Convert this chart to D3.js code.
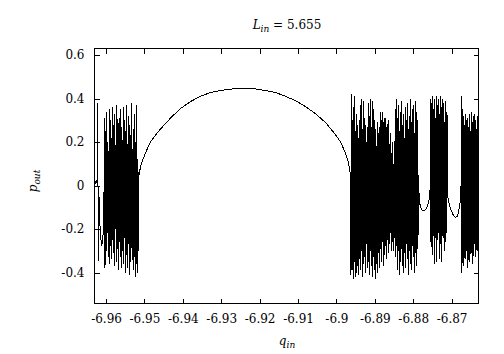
<!DOCTYPE html>
<html><head><meta charset="utf-8">
<script src="https://cdn.jsdelivr.net/npm/d3@7"></script>
<style>body{margin:0;background:#fff}svg{display:block}text{font-family:"DejaVu Serif",serif;fill:#000}</style>
</head><body><svg id="c" width="504" height="354"></svg>
<script>
// ---- data ----
const xTicks = [-6.96,-6.95,-6.94,-6.93,-6.92,-6.91,-6.9,-6.89,-6.88,-6.87];
const xTickLabels = ["-6.96","-6.95","-6.94","-6.93","-6.92","-6.91","-6.9","-6.89","-6.88","-6.87"];
const yTicks = [0.6,0.4,0.2,0,-0.2,-0.4];
const yTickLabels = ["0.6","0.4","0.2","0","-0.2","-0.4"];

// left edge piece (explicit q,p)
const edgeQ = [-6.96300,-6.96261,-6.96235,-6.96217,-6.96201,-6.96183,-6.96162,-6.96139,-6.96113,-6.96086,-6.96066,-6.96050];
const edgeP = [0.00,0.02,0.01,0.38,-0.345,-0.05,-0.17,-0.24,-0.27,-0.26,-0.18,0.00];

// left chaotic band (q range, p samples in order)
const leftQ = [-6.96040,-6.95147];
const leftP = [0.31,-0.38,0.25,-0.30,0.34,-0.22,0.20,-0.33,0.16,-0.36,0.35,-0.28,0.30,-0.34,0.22,-0.25,0.36,-0.31,0.28,-0.37,0.33,-0.20,0.18,-0.35,0.37,-0.29,0.24,-0.39,0.31,-0.26,0.35,-0.33,0.27,-0.38,0.21,-0.30,0.36,-0.36,0.30,-0.24,0.25,-0.40,0.37,-0.32,0.19,-0.38,0.32,-0.27,0.28,-0.41,0.23,-0.35,0.38,-0.30,0.17,-0.39,0.26,-0.33,0.33,-0.42,0.20,-0.36,0.37,-0.40,0.12,-0.30,0.06];

// smooth arc
const arcQ = [-6.95141,-6.95102,-6.95050,-6.94972,-6.94842,-6.94711,-6.94581,-6.94321,-6.94060,-6.93800,-6.93540,-6.93279,-6.93019,-6.92706,-6.92420,-6.92107,-6.91847,-6.91586,-6.91326,-6.91066,-6.90805,-6.90545,-6.90284,-6.90024,-6.89894,-6.89764,-6.89685,-6.89633];
const arcP = [0.050,0.085,0.115,0.150,0.200,0.232,0.260,0.310,0.354,0.386,0.410,0.428,0.437,0.444,0.446,0.444,0.437,0.428,0.410,0.390,0.363,0.330,0.290,0.234,0.200,0.150,0.105,0.046];

// right chaotic band 1
const right1Q = [-6.89620,-6.87863];
const right1P = [-0.41,0.42,-0.38,0.30,-0.43,0.36,-0.35,0.41,-0.42,0.25,-0.40,0.33,
 -0.37,0.28,-0.41,0.22,-0.34,0.30,
 -0.39,0.37,-0.30,0.40,-0.42,0.26,-0.36,0.39,-0.33,0.31,
 -0.40,0.28,-0.27,0.20,-0.38,0.27,
 -0.35,0.38,-0.41,0.32,-0.30,0.40,-0.37,0.27,-0.42,0.39,-0.33,0.35,-0.39,0.30,
 -0.43,0.26,-0.36,0.18,-0.40,0.29,-0.31,0.24,-0.38,0.27,
 -0.29,0.34,-0.35,0.30,-0.26,0.34,-0.37,0.22,-0.32,0.31,
 -0.28,0.27,-0.34,0.21,-0.25,0.30,-0.31,0.18,-0.27,0.24,-0.22,0.15,-0.30,0.20,
 -0.26,0.10,-0.30,0.14,-0.24,0.35,
 -0.33,0.40,-0.28,0.31,-0.39,0.37,-0.30,0.25,-0.41,0.34,-0.35,0.39,-0.29,0.28,-0.37,0.33,-0.40,0.22,-0.31,0.36,-0.38,0.30,-0.27,0.38,-0.34,0.26,-0.41,0.32,-0.30,0.40,-0.36,0.29,-0.39,0.35,-0.28,0.37,-0.33,0.24,-0.40,0.39,-0.31,0.34,-0.37,0.30,-0.25,0.05];

// first dip
const dip1Q = [-6.87850,-6.87837,-6.87811,-6.87772,-6.87720,-6.87668,-6.87628,-6.87589,-6.87563];
const dip1P = [-0.03,-0.075,-0.098,-0.112,-0.116,-0.110,-0.095,-0.065,-0.03];

// right chaotic band 2
const right2Q = [-6.87550,-6.87107];
const right2P = [0.40,-0.26,0.38,-0.32,0.41,-0.22,0.35,-0.36,0.40,-0.24,0.31,-0.35,0.41,-0.25,0.37,-0.22,0.40,-0.34,0.33,-0.27,0.41,-0.35,0.36,-0.23,0.40,-0.24,0.38,-0.30,0.29,-0.26,0.39,-0.22,0.34,-0.05];

// second dip
const dip2Q = [-6.87107,-6.87055,-6.87003,-6.86951,-6.86899,-6.86847,-6.86808,-6.86782,-6.86756];
const dip2P = [-0.046,-0.090,-0.118,-0.138,-0.147,-0.140,-0.110,-0.080,-0.030];

// right chaotic band 3
const right3Q = [-6.86743,-6.86274];
const right3P = [0.41,-0.40,0.35,-0.30,0.32,-0.37,0.28,-0.26,0.33,-0.34,0.30,-0.22,0.31,-0.38,0.27,-0.29,0.33,-0.35,0.25,-0.24,0.34,-0.31,0.29,-0.36,0.32,-0.20,0.33,-0.27,0.30,-0.33,0.26,-0.23,0.32,-0.30,0.28,-0.25,0.31];

// ---- build points ----
function pairs(qs, ps){ return qs.map((q,i)=>[q,ps[i]]); }
function band(range, ps){
  const s = d3.scaleLinear().domain([0, ps.length-1]).range(range);
  return ps.map((p,i)=>[s(i), p]);
}
const pts = [].concat(
  pairs(edgeQ, edgeP), band(leftQ, leftP), pairs(arcQ, arcP),
  band(right1Q, right1P), pairs(dip1Q, dip1P), band(right2Q, right2P),
  pairs(dip2Q, dip2P), band(right3Q, right3P));

// ---- layout ----
const L=94.5, R=478.5, T=48.5, B=303.5;
const x = d3.scaleLinear().domain([-6.963,-6.863]).range([L,R]);
const y = d3.scaleLinear().domain([-0.5425,0.63]).range([B,T]);
const svg = d3.select("#c");
const FONT = "'DejaVu Serif', serif";
svg.append("rect").attr("width",504).attr("height",354).attr("fill","#fff");

svg.append("clipPath").attr("id","clip").append("rect")
  .attr("x",L).attr("y",T).attr("width",R-L).attr("height",B-T);

svg.append("path").datum(pts)
  .attr("clip-path","url(#clip)")
  .attr("fill","none").attr("stroke","#000").attr("stroke-width",1)
  .attr("shape-rendering","crispEdges")
  .attr("d", d3.line().x(d=>x(d[0])).y(d=>y(d[1])));

// axes (ticks inward, mirrored)
const tl = 5;
const gx = svg.append("g").attr("transform",`translate(0,${B})`)
  .call(d3.axisBottom(x).tickValues(xTicks).tickSizeInner(-tl).tickSizeOuter(0)
    .tickPadding(11).tickFormat((d,i)=>xTickLabels[i]));
const gxt = svg.append("g").attr("transform",`translate(0,${T})`)
  .call(d3.axisTop(x).tickValues(xTicks).tickSizeInner(-tl).tickSizeOuter(0).tickFormat(""));
const gy = svg.append("g").attr("transform",`translate(${L},0)`)
  .call(d3.axisLeft(y).tickValues(yTicks).tickSizeInner(-tl).tickSizeOuter(0)
    .tickPadding(10).tickFormat((d,i)=>yTickLabels[i]));
const gyr = svg.append("g").attr("transform",`translate(${R},0)`)
  .call(d3.axisRight(y).tickValues(yTicks).tickSizeInner(-tl).tickSizeOuter(0).tickFormat(""));
[gx,gxt,gy,gyr].forEach(g=>{
  g.select(".domain").remove();
  g.selectAll("line").attr("stroke","#000").attr("shape-rendering","crispEdges");
  g.selectAll("text").attr("font-family",FONT).attr("font-size",12).attr("fill","#000");
});
svg.append("rect").attr("x",L).attr("y",T).attr("width",R-L).attr("height",B-T)
  .attr("fill","none").attr("stroke","#000").attr("shape-rendering","crispEdges");

// title
const title = svg.append("text").attr("x",287).attr("y",29).attr("text-anchor","middle")
  .attr("font-family",FONT).attr("font-size",12);
title.append("tspan").attr("font-style","italic").text("L");
title.append("tspan").attr("font-style","italic").attr("font-size",9).attr("dy",3).text("in");
title.append("tspan").attr("dy",-3).text(" = 5.655");

// x label
const xl = svg.append("text").attr("x",287).attr("y",345).attr("text-anchor","middle")
  .attr("font-family",FONT).attr("font-size",12);
xl.append("tspan").attr("font-style","italic").text("q");
xl.append("tspan").attr("font-style","italic").attr("font-size",9).attr("dy",3).text("in");

// y label
const yl = svg.append("text").attr("transform","translate(37,181) rotate(-90)").attr("text-anchor","middle")
  .attr("font-family",FONT).attr("font-size",12);
yl.append("tspan").attr("font-style","italic").text("p");
yl.append("tspan").attr("font-style","italic").attr("font-size",9).attr("dy",3).text("out");
</script></body></html>
